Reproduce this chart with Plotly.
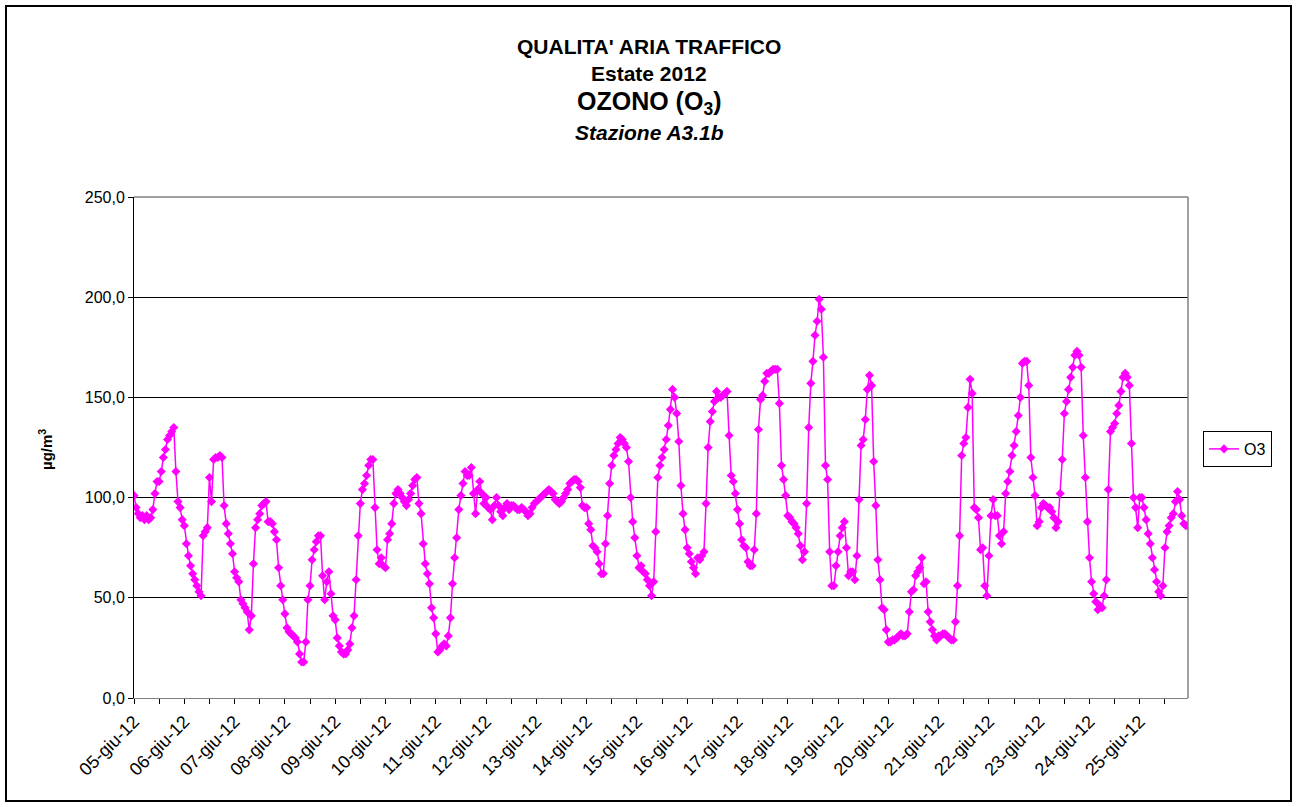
import plotly.graph_objects as go

# Hourly O3 values (µg/m3), one list per day
giu05 = [101, 95, 92, 90, 91, 89, 91, 89, 90, 94, 102, 108, 108, 113, 120, 124, 129, 131, 133, 135, 113, 98, 95, 89]
giu06 = [86, 77, 71, 66, 62, 59, 56, 53, 51, 81, 83, 85, 110, 98, 119, 120, 120, 121, 120, 96, 87, 82, 77, 72]
giu07 = [63, 60, 58, 49, 47, 45, 43, 34, 41, 67, 85, 89, 92, 96, 97, 98, 88, 88, 87, 83, 79, 65, 56, 49]
giu08 = [42, 35, 33, 32, 31, 30, 28, 22, 18, 18, 28, 49, 56, 69, 74, 78, 81, 81, 61, 49, 58, 63, 52, 41]
giu09 = [39, 30, 26, 23, 22, 22, 24, 27, 35, 41, 59, 81, 97, 104, 107, 111, 116, 119, 119, 95, 74, 67, 70, 66]
giu10 = [65, 79, 82, 87, 97, 102, 104, 102, 100, 98, 96, 99, 102, 106, 109, 110, 97, 92, 77, 67, 62, 57, 45, 40]
giu11 = [32, 23, 24, 26, 27, 26, 31, 40, 57, 70, 80, 94, 101, 107, 113, 111, 111, 115, 102, 92, 104, 108, 102, 97]
giu12 = [100, 95, 94, 89, 96, 100, 96, 93, 91, 95, 97, 94, 96, 96, 95, 94, 94, 95, 94, 93, 91, 92, 95, 97]
giu13 = [98, 99, 100, 101, 102, 103, 104, 103, 102, 99, 98, 97, 98, 100, 102, 104, 107, 108, 109, 109, 108, 105, 96, 95]
giu14 = [95, 87, 84, 76, 75, 73, 67, 62, 62, 77, 91, 107, 116, 121, 124, 127, 130, 129, 127, 125, 118, 100, 88, 80]
giu15 = [71, 65, 66, 63, 62, 59, 56, 51, 58, 83, 110, 116, 120, 124, 129, 136, 144, 154, 150, 142, 128, 106, 92, 84]
giu16 = [75, 72, 68, 65, 62, 70, 69, 71, 73, 97, 125, 138, 143, 148, 153, 150, 150, 151, 152, 153, 131, 111, 108, 102]
giu17 = [94, 87, 79, 76, 75, 68, 66, 66, 74, 92, 134, 149, 151, 158, 162, 162, 163, 164, 164, 164, 147, 116, 109, 101]
giu18 = [91, 90, 88, 87, 85, 82, 76, 69, 73, 97, 135, 157, 168, 181, 188, 199, 194, 170, 116, 109, 73, 56, 56, 66]
giu19 = [73, 81, 85, 88, 75, 61, 63, 63, 59, 71, 99, 126, 129, 139, 154, 161, 156, 118, 96, 69, 59, 45, 44, 34]
giu20 = [28, 28, 29, 29, 30, 31, 32, 31, 31, 32, 43, 53, 54, 61, 63, 65, 70, 57, 58, 43, 38, 34, 31, 29]
giu21 = [31, 31, 32, 32, 31, 30, 29, 29, 38, 56, 81, 121, 127, 130, 145, 159, 152, 95, 94, 90, 74, 75, 56, 51]
giu22 = [71, 91, 99, 91, 91, 81, 77, 83, 102, 108, 113, 121, 126, 133, 141, 150, 167, 168, 168, 156, 120, 110, 101, 86]
giu23 = [88, 95, 97, 96, 95, 95, 93, 90, 85, 88, 102, 119, 142, 148, 154, 160, 165, 171, 173, 171, 165, 131, 110, 88]
giu24 = [70, 58, 52, 48, 44, 46, 45, 51, 59, 104, 133, 135, 137, 142, 146, 153, 160, 162, 160, 156, 127, 100, 95, 85]
giu25 = [100, 100, 95, 89, 82, 77, 70, 64, 58, 53, 51, 56, 75, 83, 86, 90, 92, 98, 103, 99, 91, 87, 86, 86]

day_labels = ["05-giu-12", "06-giu-12", "07-giu-12", "08-giu-12", "09-giu-12", "10-giu-12",
              "11-giu-12", "12-giu-12", "13-giu-12", "14-giu-12", "15-giu-12", "16-giu-12",
              "17-giu-12", "18-giu-12", "19-giu-12", "20-giu-12", "21-giu-12", "22-giu-12",
              "23-giu-12", "24-giu-12", "25-giu-12"]
y_ticks = [0, 50, 100, 150, 200, 250]
y_ticktext = ["0,0", "50,0", "100,0", "150,0", "200,0", "250,0"]

days = [giu05, giu06, giu07, giu08, giu09, giu10, giu11, giu12, giu13, giu14, giu15,
        giu16, giu17, giu18, giu19, giu20, giu21, giu22, giu23, giu24, giu25]
o3 = [v for d in days for v in d]
x = list(range(len(o3)))

tickvals = [24 * i for i in range(len(day_labels))]

MAG = "#FF00FF"
FONT = "Arial, Liberation Sans, sans-serif"
fig = go.Figure()
fig.add_trace(go.Scatter(
    x=x, y=o3, mode="lines+markers", name="O3",
    line=dict(color=MAG, width=1.5),
    marker=dict(symbol="diamond", size=7, color=MAG),
))

W, H = 1298, 807
L, R, T, B = 134, 1188, 197, 698
pw, ph = R - L, B - T

def px(xp):
    return (xp - L) / pw

def py(yp):
    return (B - yp) / ph

fig.update_layout(
    width=W, height=H,
    margin=dict(l=L, r=W - R, t=T, b=H - B, pad=0),
    paper_bgcolor="white", plot_bgcolor="white",
    font=dict(family=FONT, size=13, color="black"),
    showlegend=True,
    legend=dict(x=px(1203), y=py(449), xanchor="left", yanchor="middle",
                bordercolor="black", borderwidth=1, bgcolor="white",
                font=dict(size=16, family=FONT),
                itemwidth=30, tracegroupgap=0),
    xaxis=dict(range=[0, len(o3) - 1], tickmode="array", tickvals=tickvals, ticktext=day_labels,
               tickangle=-45, ticks="outside", ticklen=5, tickcolor="black",
               minor=dict(dtick=12, tick0=0, ticks="outside", ticklen=5, tickcolor="black"),
               showline=True, linecolor="#808080", linewidth=1, mirror=False,
               showgrid=False, zeroline=False,
               tickfont=dict(size=18, family=FONT)),
    yaxis=dict(range=[0, 250], tickmode="array", tickvals=y_ticks, ticktext=y_ticktext,
               ticks="outside", ticklen=5, tickcolor="black",
               showline=True, linecolor="black", linewidth=1,
               showgrid=True, gridcolor="black", gridwidth=1, zeroline=False,
               tickfont=dict(size=16, family=FONT)),
)

# right and top plot border (gray)
fig.add_shape(type="line", xref="paper", yref="paper", x0=1, x1=1, y0=0, y1=1,
              line=dict(color="#808080", width=1.5))
fig.add_shape(type="line", xref="paper", yref="paper", x0=0, x1=1, y0=1, y1=1,
              line=dict(color="#808080", width=1.5))
# outer frame
fig.add_shape(type="rect", xref="paper", yref="paper",
              x0=px(6), x1=px(1291), y0=py(801), y1=py(6),
              line=dict(color="black", width=2), layer="below")

# y axis title
fig.add_annotation(text="<b>µg/m<sup>3</sup></b>", xref="paper", yref="paper",
                   x=px(45), y=py(450), textangle=-90, showarrow=False,
                   xanchor="center", yanchor="middle",
                   font=dict(size=15, color="black", family=FONT))

titles = [
    ("<b>QUALITA' ARIA TRAFFICO</b>", 46, 21),
    ("<b>Estate 2012</b>", 74, 21),
    ("<b>OZONO (O<sub>3</sub>)</b>", 103, 25),
    ("<b><i>Stazione A3.1b</i></b>", 133, 21),
]
for txt, ypix, sz in titles:
    fig.add_annotation(text=txt, xref="paper", yref="paper", x=px(649), y=py(ypix),
                       xanchor="center", yanchor="middle", showarrow=False,
                       font=dict(size=sz, color="black", family=FONT))

fig.write_html("out.html", config={"displayModeBar": False},
               post_script="document.body.style.margin='0px';")
